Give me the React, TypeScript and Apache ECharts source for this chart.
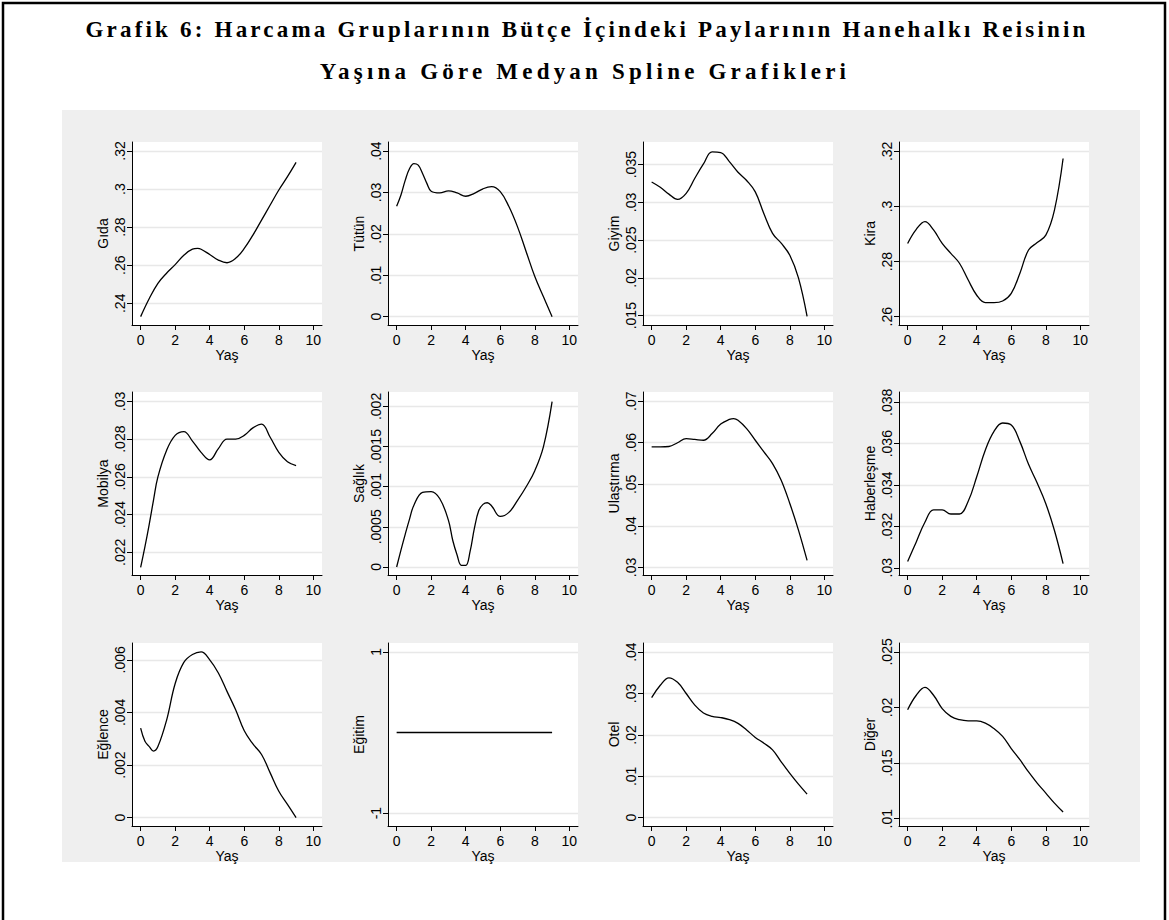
import { useEffect, useRef } from "react";
import * as echarts from "echarts";

// ---- data ----
const titleLine1 = "Grafik 6: Harcama Gruplarının Bütçe İçindeki Paylarının Hanehalkı Reisinin";
const titleLine2 = "Yaşına Göre Medyan Spline Grafikleri";
const xName = "Yaş";
const xTicks = [0, 2, 4, 6, 8, 10];

const panelNames = [
  "Gıda", "Tütün", "Giyim", "Kira",
  "Mobilya", "Sağlık", "Ulaştırma", "Haberleşme",
  "Eğlence", "Eğitim", "Otel", "Diğer",
];

const gida = [[0, .233], [0.5, .2425], [1, .2505], [1.5, .2558], [2, .2603], [2.5, .2652], [3, .2684], [3.3, .2688], [3.5, .2684], [4, .2656], [4.5, .2627], [5, .2613], [5.5, .2636], [6, .2688], [6.5, .2758], [7, .2837], [7.5, .2916], [8, .2995], [8.5, .3065], [9, .314]];
const tutun = [[0, .0267], [0.25, .0294], [0.5, .033], [0.75, .0358], [1, .037], [1.25, .0366], [1.5, .0346], [1.75, .0322], [2, .0303], [2.5, .0299], [3, .0304], [3.5, .0299], [4, .0291], [4.5, .0298], [5, .0309], [5.5, .0314], [6, .0302], [6.5, .0266], [7, .0217], [7.5, .0157], [8, .0097], [8.5, .0048], [9, 0]];
const giyim = [[0, .0327], [0.5, .032], [1, .0311], [1.5, .0304], [2, .0312], [2.5, .0332], [3, .0351], [3.5, .0367], [4, .0366], [4.5, .0354], [5, .034], [5.5, .0329], [6, .0314], [6.5, .0285], [7, .0259], [7.5, .0246], [8, .023], [8.5, .02], [9, .0149]];
const kira = [[0, .2866], [0.5, .2917], [1, .2945], [1.5, .2915], [2, .2866], [2.5, .283], [3, .2794], [3.5, .2734], [4, .2678], [4.5, .2651], [5, .2651], [5.5, .2657], [6, .2685], [6.5, .2758], [7, .2842], [7.5, .2869], [8, .2896], [8.5, .2987], [9, .3174]];
const mobilya = [[0, .0212], [0.25, .0223], [0.5, .0235], [0.75, .0248], [1, .026], [1.5, .0274], [2, .0282], [2.5, .0284], [3, .0279], [3.5, .0273], [4, .0269], [4.5, .0275], [5, .028], [5.5, .028], [6, .0282], [6.5, .0286], [7, .0288], [7.5, .0281], [8, .0273], [8.5, .0268], [9, .0266]];
const saglik = [[0, 0], [0.25, .00021], [0.5, .00041], [0.75, .0006], [1, .00077], [1.5, .00093], [2, .00094], [2.5, .00085], [3, .00058], [3.25, .00033], [3.5, .00015], [3.75, .00002], [4, .00002], [4.25, .00019], [4.5, .00048], [4.75, .00070], [5, .00078], [5.25, .00080], [5.5, .00076], [6, .00063], [6.5, .00068], [7, .00083], [7.5, .001], [8, .0012], [8.5, .0015], [9, .00206]];
const ulastirma = [[0, .059], [0.5, .059], [1, .0591], [1.5, .06], [2, .061], [2.5, .0608], [3, .0606], [3.5, .0622], [4, .0645], [4.5, .0656], [4.75, .0658], [5, .0654], [5.5, .0634], [6, .0606], [6.5, .0578], [7, .055], [7.5, .051], [8, .0454], [8.5, .039], [9, .0317]];
const haberlesme = [[0, .0303], [0.5, .03125], [1, .0322], [1.5, .0328], [2, .0328], [2.5, .0326], [3, .0326], [3.5, .0332], [4, .0344], [4.5, .0357], [5, .0366], [5.5, .037], [6, .0369], [6.5, .0361], [7, .035], [7.5, .0341], [8, .0331], [8.5, .0318], [9, .0302]];
const eglence = [[0, .0034], [0.25, .0029], [0.5, .0027], [0.75, .00253], [1, .0027], [1.5, .0037], [2, .0051], [2.5, .0059], [3, .0062], [3.5, .0063], [4, .006], [4.5, .0055], [5, .0048], [5.5, .0041], [6, .0033], [6.5, .0028], [7, .0024], [7.5, .0017], [8, .001], [8.5, .0005], [9, 0]];
const egitim = [[0, 0], [9, 0]];
const otel = [[0, .029], [0.5, .032], [1, .0338], [1.5, .0327], [2, .03], [2.5, .0272], [3, .0253], [3.5, .0245], [4, .0242], [4.5, .0237], [5, .0228], [5.5, .0212], [6, .0194], [6.5, .018], [7, .0164], [7.5, .0135], [8, .0107], [8.5, .0081], [9, .0057]];
const diger = [[0, .0198], [0.5, .0211], [1, .0218], [1.5, .0211], [2, .0199], [2.5, .0192], [3, .0189], [3.5, .0188], [4, .0188], [4.5, .0186], [5, .0181], [5.5, .0174], [6, .0163], [6.5, .0153], [7, .0142], [7.5, .0132], [8, .0123], [8.5, .0114], [9, .0106]];

const seriesData = [gida, tutun, giyim, kira, mobilya, saglik, ulastirma, haberlesme, eglence, egitim, otel, diger];

const yTicks = [
  [.24, .26, .28, .30, .32],
  [0, .01, .02, .03, .04],
  [.015, .02, .025, .03, .035],
  [.26, .28, .30, .32],
  [.022, .024, .026, .028, .03],
  [0, .0005, .001, .0015, .002],
  [.03, .04, .05, .06, .07],
  [.03, .032, .034, .036, .038],
  [0, .002, .004, .006],
  [-1, 1],
  [0, .01, .02, .03, .04],
  [.01, .015, .02, .025],
];
const yMin = [.2286, -.002, .01377, .257, .0208, -.0001, .0282, .02965, -.00032, -1.16, -.002, .00934];
const yMax = [.3247, .0422, .038, .3234, .0305, .00218, .0722, .0385, .00664, 1.11, .0422, .0258];

// ---- layout ----
const colLeft = [132, 388, 643, 899];
const rowTop = [142, 392, 643];
const gridW = 190;
const gridH = 183;
const FONT = "'Liberation Sans', Arial, sans-serif";
const TITLE_FONT = "bold 23px 'Liberation Serif', 'Times New Roman', serif";

function fmt(v: number): string {
  let s = String(+Number(v).toFixed(6));
  if (s.startsWith("0.")) s = s.slice(1);
  else if (s.startsWith("-0.")) s = "-" + s.slice(2);
  return s;
}

export default function App() {
  const ref = useRef<HTMLDivElement>(null);
  useEffect(() => {
    document.body.style.margin = "0";
    const chart = echarts.init(ref.current!, undefined, { renderer: "svg" });
    const grids: any[] = [];
    const xAxes: any[] = [];
    const yAxes: any[] = [];
    const series: any[] = [];
    for (let i = 0; i < 12; i++) {
      const r = Math.floor(i / 4);
      const c = i % 4;
      grids.push({
        left: colLeft[c], top: rowTop[r], width: gridW, height: gridH,
        show: true, backgroundColor: "#ffffff", borderWidth: 0, containLabel: false,
      });
      xAxes.push({
        type: "value", gridIndex: i, min: -0.5, max: 10.5,
        name: xName, nameLocation: "middle", nameGap: 19,
        nameTextStyle: { color: "#000", fontSize: 14, fontFamily: FONT },
        axisLine: { show: true, onZero: false, lineStyle: { color: "#000", width: 1 } },
        axisTick: { show: true, length: 5, customValues: xTicks, lineStyle: { color: "#000" } },
        axisLabel: { customValues: xTicks, margin: 8, color: "#000", fontSize: 14, fontFamily: FONT, formatter: (v: number) => fmt(v) },
        splitLine: { show: false },
      });
      yAxes.push({
        type: "value", gridIndex: i, min: yMin[i], max: yMax[i],
        name: panelNames[i], nameLocation: "middle", nameGap: 22,
        nameTextStyle: { color: "#000", fontSize: 14, fontFamily: FONT },
        axisLine: { show: true, onZero: false, lineStyle: { color: "#000", width: 1 } },
        axisTick: { show: true, length: 5, customValues: yTicks[i], lineStyle: { color: "#000" } },
        axisLabel: { customValues: yTicks[i], rotate: 90, margin: 5, color: "#000", fontSize: 14, fontFamily: FONT, formatter: (v: number) => fmt(v), showMinLabel: true, showMaxLabel: true },
        splitLine: { show: true, lineStyle: { color: "#e8e8e8", width: 1.3 } },
      });
      series.push({
        type: "line", xAxisIndex: i, yAxisIndex: i, data: seriesData[i],
        smooth: 0.4, symbol: "none", lineStyle: { color: "#000", width: 1.3 },
      });
    }
    chart.setOption({
      animation: false,
      grid: grids,
      xAxis: xAxes,
      yAxis: yAxes,
      series,
      graphic: [
        { type: "rect", z: -10, shape: { x: 62, y: 110, width: 1078, height: 752 }, style: { fill: "#efefef" } },
        { type: "rect", z: -10, shape: { x: 3, y: 3, width: 1162, height: 960 }, style: { fill: "none", stroke: "#000", lineWidth: 2.5 } },
        { type: "text", x: 587, y: 29, style: { text: titleLine1, fill: "#000", font: TITLE_FONT, align: "center", verticalAlign: "middle" } },
        { type: "text", x: 585, y: 71, style: { text: titleLine2, fill: "#000", font: TITLE_FONT, align: "center", verticalAlign: "middle" } },
      ],
    });
    // letter-spaced title, as in the reference
    const texts = ref.current!.querySelectorAll("text");
    texts.forEach((t) => {
      const s = t.textContent || "";
      if (s === titleLine1) (t as SVGTextElement).style.letterSpacing = "3.2px";
      if (s === titleLine2) (t as SVGTextElement).style.letterSpacing = "4.2px";
    });
    return () => chart.dispose();
  }, []);
  return <div ref={ref} style={{ width: 1169, height: 920 }} />;
}
